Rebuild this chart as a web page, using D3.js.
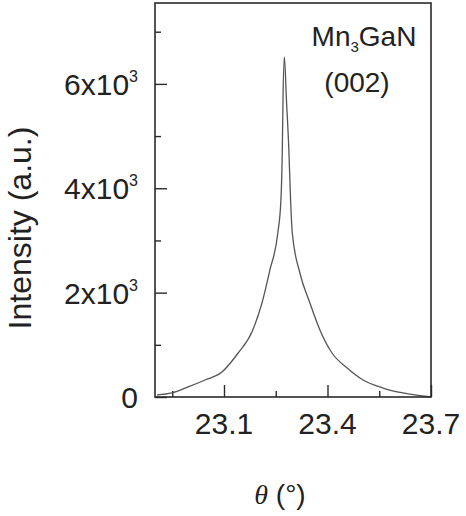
<!DOCTYPE html>
<html>
<head>
<meta charset="utf-8">
<script src="https://cdn.jsdelivr.net/npm/d3@7/dist/d3.min.js"></script>
<style>
  html, body { margin: 0; padding: 0; background: #fff; }
  svg { display: block; }
  text { font-family: "Liberation Sans", Arial, sans-serif; fill: #222; }
</style>
</head>
<body>
<svg id="chart" width="466" height="516"></svg>
<script>
// Mn3GaN (002) rocking curve
const theta = [22.906, 22.949, 22.996, 23.045, 23.094, 23.141, 23.181, 23.210, 23.233, 23.256,
               23.265, 23.269, 23.271, 23.275, 23.281, 23.288, 23.293, 23.298, 23.320, 23.349,
               23.378, 23.413, 23.457, 23.503, 23.561, 23.619, 23.700];
const intensity = [38, 77, 192, 326, 479, 843, 1246, 1801, 2434, 3143,
                   3775, 4734, 5692, 6516, 5692, 4734, 3775, 3143, 2376, 1801,
                   1284, 843, 556, 326, 172, 77, 0];

const xMajorTicks = [23.1, 23.4, 23.7];
const xMinorTicks = [22.95, 23.25, 23.55];
const yMajorTicks = [0, 2000, 4000, 6000];
const yMinorTicks = [1000, 3000, 5000, 7000];
const yTickLabels = ["0", "2x10", "4x10", "6x10"];
const yTickExp = ["", "3", "3", "3"];

const svg = d3.select("#chart");
const plotLeft = 155, plotRight = 431, plotTop = 3, plotBottom = 397;

const x = d3.scaleLinear().domain([22.9, 23.7]).range([plotLeft, plotRight]);
const y = d3.scaleLinear().domain([0, 7550]).range([plotBottom, plotTop]);

const ink = "#2a2a2a";

// inward ticks on the bottom axis
const gx = svg.append("g").attr("transform", `translate(0,${plotBottom})`);
gx.call(d3.axisTop(x).tickValues(xMajorTicks).tickSize(12).tickFormat(""));
gx.call(g => g.select(".domain").remove());
const gxm = svg.append("g").attr("transform", `translate(0,${plotBottom})`);
gxm.call(d3.axisTop(x).tickValues(xMinorTicks).tickSize(6).tickFormat(""));
gxm.call(g => g.select(".domain").remove());

// inward ticks on the left axis
const gy = svg.append("g").attr("transform", `translate(${plotLeft},0)`);
gy.call(d3.axisRight(y).tickValues(yMajorTicks).tickSize(12).tickFormat(""));
gy.call(g => g.select(".domain").remove());
const gym = svg.append("g").attr("transform", `translate(${plotLeft},0)`);
gym.call(d3.axisRight(y).tickValues(yMinorTicks).tickSize(6).tickFormat(""));
gym.call(g => g.select(".domain").remove());

svg.selectAll(".tick line").attr("stroke", ink).attr("stroke-width", 1.4);

// x tick labels
svg.append("g").selectAll("text")
  .data(xMajorTicks)
  .join("text")
  .attr("x", d => x(d))
  .attr("y", plotBottom + 37)
  .attr("text-anchor", "middle")
  .attr("font-size", 30)
  .text(d => d.toFixed(1));

// y tick labels with superscript exponent
const yl = svg.append("g").selectAll("text")
  .data(yMajorTicks)
  .join("text")
  .attr("x", 138)
  .attr("y", d => y(d) + 11)
  .attr("text-anchor", "end")
  .attr("font-size", 30);
yl.append("tspan").text((d, i) => yTickLabels[i]);
yl.append("tspan")
  .attr("font-size", 16)
  .attr("dy", (d, i) => yTickExp[i] ? -13 : 0)
  .text((d, i) => yTickExp[i]);

// curve
const line = d3.line()
  .x((d, i) => x(theta[i]))
  .y(d => y(d))
  .curve(d3.curveMonotoneX);
svg.append("path")
  .datum(intensity)
  .attr("fill", "none")
  .attr("stroke", "#555")
  .attr("stroke-width", 1.3)
  .attr("d", line);

// frame
svg.append("rect")
  .attr("x", plotLeft).attr("y", plotTop)
  .attr("width", plotRight - plotLeft).attr("height", plotBottom - plotTop)
  .attr("fill", "none")
  .attr("stroke", ink)
  .attr("stroke-width", 1.6);

// annotation
const ann = svg.append("text")
  .attr("x", 364).attr("y", 46)
  .attr("text-anchor", "middle")
  .attr("font-size", 28);
ann.append("tspan").text("Mn");
ann.append("tspan").attr("font-size", 15).attr("dy", 6).text("3");
ann.append("tspan").attr("dy", -6).text("GaN");

svg.append("text")
  .attr("x", 357).attr("y", 92)
  .attr("text-anchor", "middle")
  .attr("font-size", 28)
  .text("(002)");

// axis titles
svg.append("text")
  .attr("transform", "translate(31,228) rotate(-90)")
  .attr("text-anchor", "middle")
  .attr("font-size", 32)
  .text("Intensity (a.u.)");

const xt = svg.append("text")
  .attr("x", 280).attr("y", 504)
  .attr("text-anchor", "middle")
  .attr("font-size", 28);
xt.append("tspan")
  .attr("font-family", "'Liberation Serif', serif")
  .attr("font-style", "italic")
  .text("θ");
xt.append("tspan").text(" (°)");
</script>
</body>
</html>
